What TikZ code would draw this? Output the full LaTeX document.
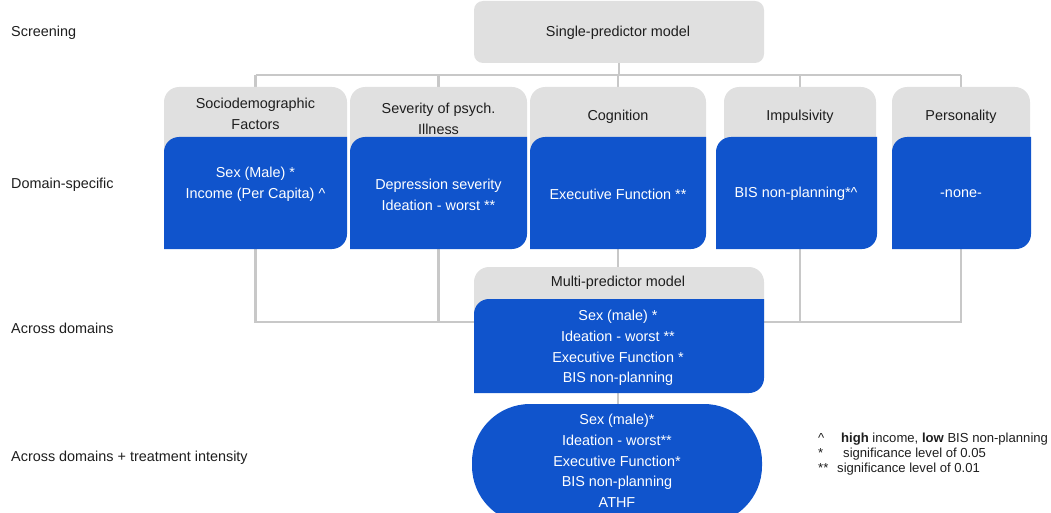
\documentclass[tikz,border=0pt]{standalone}
\usepackage{fontspec}
\setmainfont{Liberation Sans}
\definecolor{boxblue}{RGB}{16,84,204}
\definecolor{hdrgray}{RGB}{224,224,224}
\definecolor{linegray}{RGB}{200,200,200}
\definecolor{txtdark}{RGB}{30,30,30}
\begin{document}
\begin{tikzpicture}[x=1pt,y=1pt,
  font=\fontsize{14.4}{20.7}\selectfont,
  frame/.style={rectangle,inner sep=0pt,outer sep=0pt,draw=none},
  conn/.style={draw=linegray,line width=2.8pt},
  lbl/.style={anchor=west,inner sep=0pt,text=txtdark},
  hdrtxt/.style={align=center,inner sep=0pt,text=txtdark},
  bodytxt/.style={align=center,inner sep=0pt,text=white},
  hdrfill/.style={fill=hdrgray},
  bodyfill/.style={fill=boxblue}]
\useasboundingbox (0,0) rectangle (1051,-513);
\clip (0,0) rectangle (1051,-513);

% invisible frames of the boxes
\node[frame,minimum width=290pt,minimum height=62pt] (single) at (619,-32) {};
\node[frame,minimum width=183pt,minimum height=162pt] (soc) at (255.5,-168) {};
\node[frame,minimum width=177pt,minimum height=162pt] (sev) at (438.5,-168) {};
\node[frame,minimum width=176pt,minimum height=162pt] (cog) at (618,-168) {};
\node[frame,minimum width=152pt,minimum height=162pt] (imp) at (800,-168) {};
\node[frame,minimum width=138pt,minimum height=162pt] (per) at (961,-168) {};
\node[frame,minimum width=290pt,minimum height=126pt] (multi) at (618,-330) {};
\node[frame,minimum width=290pt,minimum height=118pt] (final) at (617,-463) {};
\coordinate (bus) at (0,-75);
\coordinate (bus2) at (0,-322);

% connectors
\draw[conn] (soc.north |- bus) -- (per.north |- bus);
\draw[conn] (single.south) -- (single.south |- bus);
\foreach \n in {soc,sev,cog,imp,per} {\draw[conn] (\n.north |- bus) -- (\n.north);}
\draw[conn] (soc.south) -- (soc.south |- bus2) -- (per.south |- bus2) -- (per.south);
\draw[conn] (sev.south) -- (sev.south |- bus2);
\draw[conn] (imp.south) -- (imp.south |- bus2);
\draw[conn] (cog.south) -- (multi.north);
\draw[conn] (multi.south) -- (multi.south |- final.north);

% single-predictor box
\fill[hdrfill,rounded corners=9pt] (474,-1) rectangle (764,-63);

% domain boxes: header (top corners rounded) and body (top-left, bottom-right rounded)
\fill[hdrfill] (164,-160) -- (164,-102) arc[start angle=180,end angle=90,radius=15] -- (332,-87) arc[start angle=90,end angle=0,radius=15] -- (347,-160) -- cycle;
\fill[bodyfill] (164,-249) -- (164,-152) arc[start angle=180,end angle=90,radius=15] -- (347,-137) -- (347,-234) arc[start angle=0,end angle=-90,radius=15] -- cycle;

\fill[hdrfill] (350,-160) -- (350,-102) arc[start angle=180,end angle=90,radius=15] -- (512,-87) arc[start angle=90,end angle=0,radius=15] -- (527,-160) -- cycle;
\fill[bodyfill] (350,-249) -- (350,-152) arc[start angle=180,end angle=90,radius=15] -- (527,-137) -- (527,-234) arc[start angle=0,end angle=-90,radius=15] -- cycle;

\fill[hdrfill] (530,-160) -- (530,-102) arc[start angle=180,end angle=90,radius=15] -- (691,-87) arc[start angle=90,end angle=0,radius=15] -- (706,-160) -- cycle;
\fill[bodyfill] (530,-249) -- (530,-152) arc[start angle=180,end angle=90,radius=15] -- (706,-137) -- (706,-234) arc[start angle=0,end angle=-90,radius=15] -- cycle;

\fill[hdrfill] (724,-160) -- (724,-102) arc[start angle=180,end angle=90,radius=15] -- (861,-87) arc[start angle=90,end angle=0,radius=15] -- (876,-160) -- cycle;
\fill[bodyfill] (716,-249) -- (716,-152) arc[start angle=180,end angle=90,radius=15] -- (877,-137) -- (877,-234) arc[start angle=0,end angle=-90,radius=15] -- cycle;

\fill[hdrfill] (892,-160) -- (892,-102) arc[start angle=180,end angle=90,radius=15] -- (1015,-87) arc[start angle=90,end angle=0,radius=15] -- (1030,-160) -- cycle;
\fill[bodyfill] (892,-249) -- (892,-152) arc[start angle=180,end angle=90,radius=15] -- (1031,-137) -- (1031,-234) arc[start angle=0,end angle=-90,radius=15] -- cycle;

% multi-predictor box
\fill[hdrfill] (474,-320) -- (474,-282) arc[start angle=180,end angle=90,radius=15] -- (749,-267) arc[start angle=90,end angle=0,radius=15] -- (764,-320) -- cycle;
\fill[bodyfill] (474,-393) -- (474,-314) arc[start angle=180,end angle=90,radius=15] -- (764,-299) -- (764,-378) arc[start angle=0,end angle=-90,radius=15] -- cycle;

% final rounded (stadium) box
\fill[bodyfill,rounded corners=58pt] (472,-404) rectangle (762,-524);

% texts
\node[hdrtxt] (singleT) at (618,-33) {Single-predictor model};

\node[hdrtxt] (socH) at (255.5,-114) {Sociodemographic\\Factors};
\node[bodytxt] (socB) at (255.5,-184.5) {Sex (Male) *\\Income (Per Capita) \textasciicircum};
\node[hdrtxt] (sevH) at (438.5,-119) {Severity of psych.\\Illness};
\node[bodytxt] (sevB) at (438.5,-195) {Depression severity\\Ideation - worst **};
\node[hdrtxt] (cogH) at (618,-117) {Cognition};
\node[bodytxt] (cogB) at (618,-194) {Executive Function **};
\node[hdrtxt] (impH) at (800,-117) {Impulsivity};
\node[bodytxt] (impB) at (796,-194) {BIS non-planning*\textasciicircum};
\node[hdrtxt] (perH) at (961,-117) {Personality};
\node[bodytxt] (perB) at (961,-194) {-none-};

\node[hdrtxt] (multiH) at (618,-283) {Multi-predictor model};
\node[bodytxt] (multiB) at (618,-348) {Sex (male) *\\Ideation - worst **\\Executive Function *\\BIS non-planning};
\node[bodytxt] (finalB) at (617,-461) {Sex (male)*\\Ideation - worst**\\Executive Function*\\BIS non-planning\\ATHF};

% row labels
\node[lbl] (l1) at (11,-33) {Screening};
\node[lbl] (l2) at (11,-185) {Domain-specific};
\node[lbl] (l3) at (11,-328) {Across domains};
\node[lbl] (l4) at (11,-458) {Across domains + treatment intensity};

% legend
\node[lbl,align=left,font=\fontsize{13.1}{15}\selectfont] (legend) at (818,-454)
 {\makebox[23pt][l]{\textasciicircum}\textbf{high} income, \textbf{low} BIS non-planning\\
  \makebox[25pt][l]{*}significance level of 0.05\\
  \makebox[19pt][l]{**}significance level of 0.01};
\end{tikzpicture}
\end{document}
